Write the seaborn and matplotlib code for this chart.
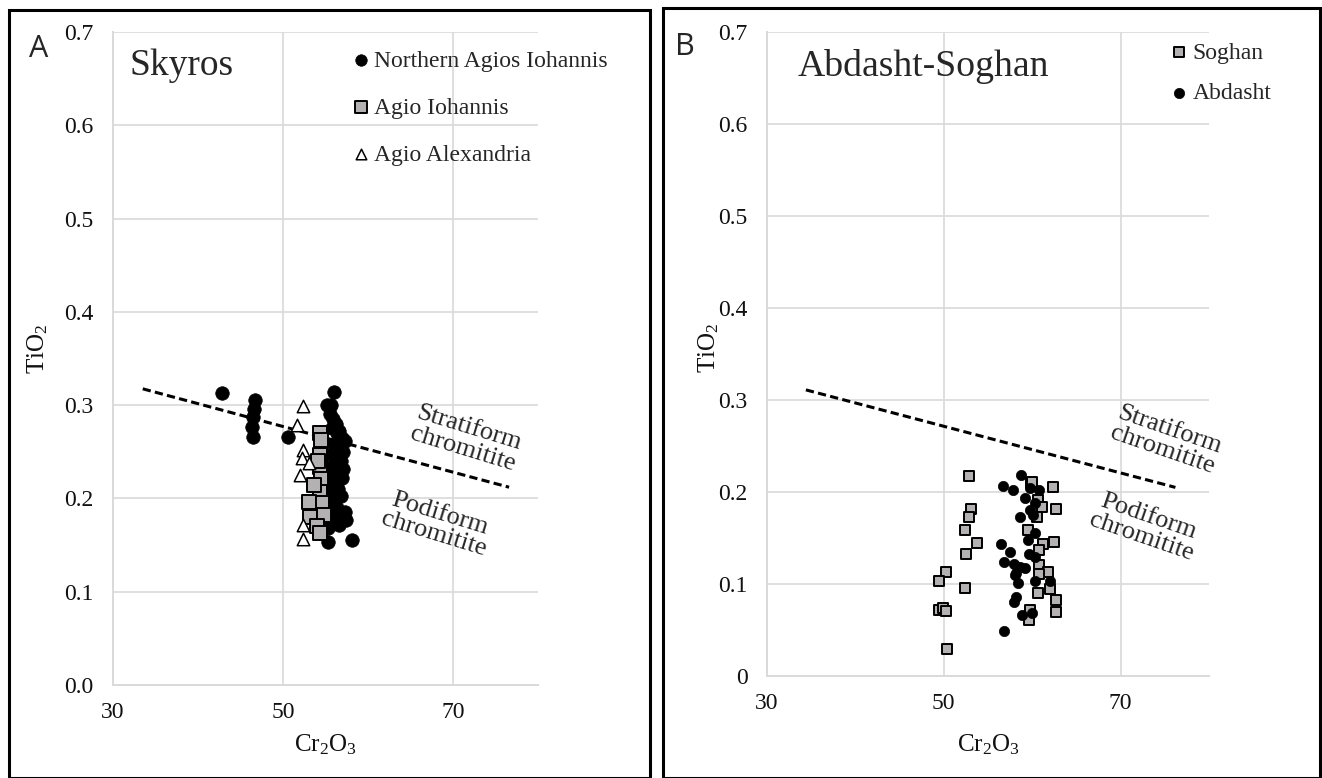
import matplotlib
matplotlib.use("Agg")
import matplotlib.pyplot as plt
import seaborn as sns
from matplotlib.patches import Rectangle
from matplotlib.ticker import FixedLocator, FixedFormatter

# ---- Skyros (panel A) ----
nai_cr = [42.8, 46.7, 46.6, 46.5, 46.3, 46.5, 50.6,
          56.0, 55.2, 55.7, 55.5, 55.9, 56.2, 56.6, 56.9, 57.3, 56.4, 55.8,
          56.0, 56.5, 57.0, 55.6, 56.2, 56.8, 55.9, 56.4, 57.1, 55.7, 56.3,
          56.9, 55.9, 56.5, 55.6, 56.2, 56.8, 55.8, 56.4, 57.3, 55.5, 56.0,
          56.6, 55.3, 57.4, 55.3, 58.1]
nai_ti = [0.313, 0.306, 0.296, 0.287, 0.277, 0.266, 0.266,
          0.314, 0.300, 0.300, 0.290, 0.285, 0.280, 0.272, 0.265, 0.262, 0.270, 0.275,
          0.258, 0.255, 0.250, 0.248, 0.243, 0.240, 0.236, 0.230, 0.232, 0.225, 0.220,
          0.222, 0.214, 0.210, 0.205, 0.200, 0.203, 0.195, 0.190, 0.185, 0.185, 0.178,
          0.172, 0.168, 0.177, 0.153, 0.155]

ai_cr = [54.4, 54.5, 54.3, 54.4, 54.5, 54.3, 54.6, 53.0, 53.2, 54.8, 54.0, 54.3, 53.6, 54.1]
ai_ti = [0.270, 0.263, 0.247, 0.234, 0.221, 0.207, 0.195, 0.196, 0.180, 0.182, 0.170, 0.163, 0.214, 0.240]

aa_cr = [52.3, 51.7, 52.3, 52.2, 53.0, 52.0, 52.4, 52.3]
aa_ti = [0.299, 0.279, 0.252, 0.243, 0.238, 0.225, 0.171, 0.156]

a_line_cr = [33.5, 76.6]
a_line_ti = [0.3175, 0.212]

# ---- Abdasht-Soghan (panel B) ----
sog_cr = [52.9, 53.1, 52.9, 52.4, 53.7, 52.5, 50.2, 49.5, 52.4, 49.5, 49.9, 50.3, 50.4,
          59.9, 62.4, 60.7, 61.1, 62.7, 60.5, 59.5, 61.2, 62.5, 60.8, 60.8, 61.8, 60.8,
          62.0, 60.6, 62.7, 62.7, 59.7, 59.6, 60.0]
sog_ti = [0.217, 0.182, 0.173, 0.159, 0.145, 0.133, 0.113, 0.103, 0.096, 0.072, 0.074, 0.071, 0.029,
          0.210, 0.205, 0.191, 0.184, 0.182, 0.173, 0.159, 0.144, 0.146, 0.137, 0.121, 0.113, 0.111,
          0.095, 0.090, 0.083, 0.070, 0.072, 0.061, 0.211]

abd_cr = [58.7, 56.7, 57.8, 59.7, 60.8, 59.2, 60.3, 59.7, 58.6, 60.1, 60.3, 59.5, 56.5, 57.5,
          59.6, 60.3, 56.8, 57.9, 58.6, 59.2, 58.2, 58.0, 58.4, 60.3, 62.0, 58.2, 57.9, 58.8,
          60.0, 56.8]
abd_ti = [0.219, 0.206, 0.202, 0.204, 0.202, 0.194, 0.188, 0.180, 0.173, 0.175, 0.155, 0.148, 0.144, 0.135,
          0.133, 0.129, 0.124, 0.122, 0.119, 0.117, 0.112, 0.110, 0.101, 0.103, 0.103, 0.086, 0.080, 0.066,
          0.068, 0.049]

b_line_cr = [34.4, 76.2]
b_line_ti = [0.311, 0.205]

x_ticks = [30, 50, 70]
y_ticks = [0.0, 0.1, 0.2, 0.3, 0.4, 0.5, 0.6, 0.7]
a_ytick_labels = ["0.0", "0.1", "0.2", "0.3", "0.4", "0.5", "0.6", "0.7"]
b_ytick_labels = ["0", "0.1", "0.2", "0.3", "0.4", "0.5", "0.6", "0.7"]

sns.set_style("white")
plt.rcParams["font.family"] = ["Liberation Serif", "DejaVu Serif"]
plt.rcParams["mathtext.fontset"] = "custom"
plt.rcParams["mathtext.rm"] = "Liberation Serif"
plt.rcParams["mathtext.default"] = "regular"

GRID = "#d9d9d9"
GRAY_FILL = "#b3b1b1"

fig = plt.figure(figsize=(13.22, 7.78), dpi=100)
axA = fig.add_axes([113 / 1322, 1 - 685 / 778, 425 / 1322, 653 / 778])
axB = fig.add_axes([767 / 1322, 1 - 676 / 778, 442 / 1322, 644 / 778])


def style_axes(ax, ylabels):
    ax.set_xlim(30, 80)
    ax.set_ylim(0, 0.7)
    ax.xaxis.set_major_locator(FixedLocator(x_ticks))
    ax.yaxis.set_major_locator(FixedLocator(y_ticks))
    ax.yaxis.set_major_formatter(FixedFormatter(ylabels))
    for y in y_ticks[1:]:
        ax.axhline(y, color=GRID, lw=1.2, zorder=0)
    for x in x_ticks[1:]:
        ax.axvline(x, color=GRID, lw=1.2, zorder=0)
    for side in ["top", "right"]:
        ax.spines[side].set_visible(False)
    for side in ["left", "bottom"]:
        ax.spines[side].set_color(GRID)
        ax.spines[side].set_linewidth(1.4)
    ax.tick_params(axis="both", length=0, labelsize=17, colors="#111111")
    ax.tick_params(axis="x", pad=12)
    ax.tick_params(axis="y", pad=14)
    ax.set_xlabel("Cr$_2$O$_3$", fontsize=18, color="#111111")
    ax.set_ylabel("TiO$_2$", fontsize=18, color="#111111")
    ax.xaxis.label.set_va("center")
    ax.yaxis.label.set_va("center")


def dashed(ax, xs, ys):
    sns.lineplot(x=xs, y=ys, ax=ax, color="black", lw=2.2, zorder=2)
    ax.lines[-1].set_linestyle((0, (2.7, 1.4)))


# Panel A
style_axes(axA, a_ytick_labels)
dashed(axA, a_line_cr, a_line_ti)
sns.scatterplot(x=nai_cr, y=nai_ti, ax=axA, marker="o", s=95, color="black",
                edgecolor="black", linewidth=0.5, label="Northern Agios Iohannis", zorder=3)
sns.scatterplot(x=ai_cr, y=ai_ti, ax=axA, marker="s", s=100, color=GRAY_FILL,
                edgecolor="black", linewidth=1.4, label="Agio Iohannis", zorder=4)
sns.scatterplot(x=aa_cr, y=aa_ti, ax=axA, marker="^", s=80, color="white",
                edgecolor="black", linewidth=1.1, label="Agio Alexandria", zorder=5)
axA.legend(loc="upper left", bbox_to_anchor=(352 / 1322, 1 - 50 / 778),
           bbox_transform=fig.transFigure, frameon=False, fontsize=17,
           handlelength=0.8, handletextpad=0.15, labelspacing=1.08,
           borderpad=0, borderaxespad=0, markerscale=0.85)
axA.text(0.04, 0.948, "Skyros", transform=axA.transAxes, fontsize=27,
         ha="left", va="center")
axA.text(71.5, 0.264, "Stratiform\nchromitite", fontsize=19, rotation=-17,
         ha="center", va="center", rotation_mode="anchor", linespacing=1.0)
axA.text(68.1, 0.1726, "Podiform\nchromitite", fontsize=19, rotation=-17,
         ha="center", va="center", rotation_mode="anchor", linespacing=1.0)
axA.xaxis.set_label_coords(0.5, -0.092)
axA.yaxis.set_label_coords(-0.176, 0.515)

# Panel B
style_axes(axB, b_ytick_labels)
dashed(axB, b_line_cr, b_line_ti)
sns.scatterplot(x=sog_cr, y=sog_ti, ax=axB, marker="s", s=62, color=GRAY_FILL,
                edgecolor="black", linewidth=1.4, label="Soghan", zorder=3)
sns.scatterplot(x=abd_cr, y=abd_ti, ax=axB, marker="o", s=55, color="black",
                edgecolor="black", linewidth=0.5, label="Abdasht", zorder=4)
axB.legend(loc="upper left", bbox_to_anchor=(1170 / 1322, 1 - 42 / 778),
           bbox_transform=fig.transFigure, frameon=False, fontsize=17,
           handlelength=0.8, handletextpad=0.15, labelspacing=0.8,
           borderpad=0, borderaxespad=0, markerscale=1.0)
axB.text(0.07, 0.9457, "Abdasht-Soghan", transform=axB.transAxes, fontsize=27.2,
         ha="left", va="center")
axB.text(75.1, 0.2565, "Stratiform\nchromitite", fontsize=19, rotation=-19,
         ha="center", va="center", rotation_mode="anchor", linespacing=1.0)
axB.text(72.7, 0.162, "Podiform\nchromitite", fontsize=19, rotation=-19,
         ha="center", va="center", rotation_mode="anchor", linespacing=1.0)
axB.xaxis.set_label_coords(0.5, -0.107)
axB.yaxis.set_label_coords(-0.133, 0.51)

# Panel frames and letters
for x0, x1, y0, y1 in [(9, 650, 10, 778), (663, 1320, 8, 778)]:
    fig.add_artist(Rectangle((x0 / 1322, 1 - y1 / 778), (x1 - x0) / 1322, (y1 - y0) / 778,
                             transform=fig.transFigure, fill=False, edgecolor="black",
                             linewidth=2.2, clip_on=False))
fig.text(39 / 1322, 1 - 49 / 778, "A", fontsize=22, family="Open Sans",
         ha="center", va="center")
fig.text(685 / 1322, 1 - 47 / 778, "B", fontsize=22, family="Open Sans",
         ha="center", va="center")

fig.savefig("out.png", dpi=100)
